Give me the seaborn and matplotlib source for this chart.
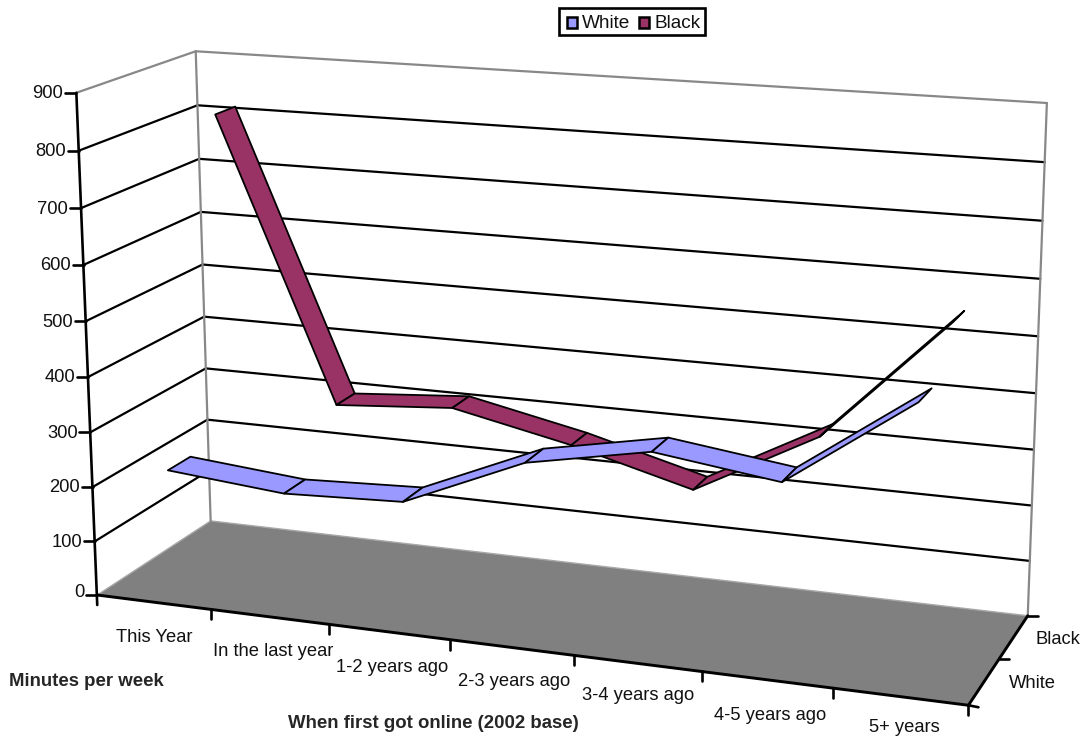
import numpy as np
import matplotlib
matplotlib.use("Agg")
import matplotlib.pyplot as plt
from matplotlib.patches import Rectangle
import seaborn as sns

# Survey values: minutes online per week by when the respondent first got online
categories = ["This Year", "In the last year", "1-2 years ago", "2-3 years ago",
              "3-4 years ago", "4-5 years ago", "5+ years"]
white_minutes = [222, 203, 212, 305, 347, 318, 475]
black_minutes = [817, 302, 318, 272, 214, 332, 552]
value_ticks = [0, 100, 200, 300, 400, 500, 600, 700, 800, 900]
series_names = ["White", "Black"]

WHITE_COLOR = "#9999FF"
BLACK_COLOR = "#993366"
FLOOR_COLOR = "#808080"
BORDER_COLOR = "#888888"
VALUE_MAX = 900.0
LABEL_SIZE = 13.2

sns.set_style("white")
plt.rcParams["font.family"] = ["Liberation Sans", "DejaVu Sans"]

fig = plt.figure(figsize=(10.82, 7.38), dpi=100)
ax = fig.add_axes([0, 0, 1, 1])
ax.set_xlim(0, 1082)
ax.set_ylim(738, 0)
ax.axis("off")

# Camera: a projective map solved from where the box corners land on the canvas.
# Box coordinates are (category fraction, depth fraction, value fraction).
box_corners = np.array([[0, 0, 0], [0, 1, 0], [1, 1, 0], [1, 0, 0],
                        [0, 0, 1], [0, 1, 1], [1, 1, 1]], float)
canvas_corners = np.array([[97, 596], [211, 520], [1028, 616], [968, 705],
                           [77, 92], [195, 52], [1047, 103]], float)
rows = []
for (cx, cd, cv), (u, w) in zip(box_corners, canvas_corners):
    rows.append([cx, cd, cv, 1, 0, 0, 0, 0, -u * cx, -u * cd, -u * cv, -u])
    rows.append([0, 0, 0, 0, cx, cd, cv, 1, -w * cx, -w * cd, -w * cv, -w])
camera = np.linalg.svd(np.array(rows))[2][-1].reshape(3, 4)


def project(x, d, value):
    """Project a category fraction, depth fraction and data value to canvas pixels."""
    h = camera @ np.array([x, d, value / VALUE_MAX, 1.0])
    return h[:2] / h[2]


def segment(p, q, color="black", lw=1.5, z=2):
    sns.lineplot(x=[p[0], q[0]], y=[p[1], q[1]], color=color, linewidth=lw,
                 sort=False, estimator=None, errorbar=None, ax=ax, zorder=z)


# Floor
floor = [project(0, 0, 0), project(0, 1, 0), project(1, 1, 0), project(1, 0, 0)]
ax.fill(*zip(*floor), facecolor=FLOOR_COLOR, edgecolor="#A8A8A8", linewidth=1.0, zorder=1)

# Gridlines across the side wall and back wall
for v in value_ticks[1:-1]:
    segment(project(0, 0, v), project(0, 1, v), lw=1.6)
    segment(project(0, 1, v), project(1, 1, v), lw=1.6)

# Wall borders
top = VALUE_MAX
segment(project(0, 0, top), project(0, 1, top), BORDER_COLOR, 1.6)
segment(project(0, 1, top), project(1, 1, top), BORDER_COLOR, 1.6)
segment(project(0, 1, top), project(0, 1, 0), BORDER_COLOR, 1.6)
segment(project(1, 1, top), project(1, 1, 0), BORDER_COLOR, 1.6)

# Ribbons: Black sits behind White
n = len(categories)
ribbons = [(black_minutes, 0.66, 0.84, BLACK_COLOR), (white_minutes, 0.155, 0.35, WHITE_COLOR)]
z = 3
for values, d_front, d_back, color in ribbons:
    for i in range(n - 1):
        x0, x1 = (i + 0.5) / n, (i + 1.5) / n
        quad = [project(x0, d_front, values[i]), project(x0, d_back, values[i]),
                project(x1, d_back, values[i + 1]), project(x1, d_front, values[i + 1])]
        ax.fill(*zip(*quad), facecolor=color, edgecolor="black", linewidth=1.3,
                joinstyle="round", zorder=z)
    z += 1

# Value axis with ticks
segment(project(0, 0, top), project(0, 0, 0) + np.array([0, 10]), lw=1.9, z=6)
value_label_shift = {0: -4}
for v in value_ticks:
    p = project(0, 0, v)
    segment(p, p + np.array([-11, 0]), lw=1.9, z=6)
    ax.text(p[0] - 13, p[1] + 1 + value_label_shift.get(v, 0), str(v), ha="right",
            va="center", fontsize=LABEL_SIZE, color="#111111")

# Category axis with ticks
segment(project(0, 0, 0), project(1, 0, 0), lw=2.1, z=6)
for i in range(1, n + 1):
    p = project(i / n, 0, 0)
    segment(p, p + np.array([0, 10]), lw=1.9, z=6)
category_label_pos = [(154, 638), (273, 652), (392, 668), (514, 682), (638, 696), (770, 716), (904, 727.5)]
for name, (lx, ly) in zip(categories, category_label_pos):
    ax.text(lx, ly, name, ha="center", va="center", fontsize=LABEL_SIZE, color="#111111")

# Depth axis with ticks and series names
segment(project(1, 0, 0), project(1, 1, 0), lw=2.1, z=6)
for d in (0, 0.5, 1):
    p = project(1, d, 0)
    segment(p, p + np.array([10, 0 if d else 2]), lw=1.9, z=6)
for name, (lx, ly) in zip(series_names, [(1032, 684), (1058, 640)]):
    ax.text(lx, ly, name, ha="center", va="center", fontsize=LABEL_SIZE, color="#111111")

# Axis titles
ax.text(9, 682, "Minutes per week", ha="left", va="center", fontsize=13.4, fontweight="bold")
ax.text(433, 724, "When first got online (2002 base)", ha="center", va="center",
        fontsize=13.4, fontweight="bold")

# Legend box
ax.add_patch(Rectangle((558.5, 7.5), 146.5, 27.5, facecolor="white", edgecolor="black",
                       linewidth=1.9, zorder=7))
for name, color, sx, tx in zip(series_names, [WHITE_COLOR, BLACK_COLOR], [567, 639], [582, 654]):
    ax.add_patch(Rectangle((sx, 17), 10, 10.5, facecolor=color, edgecolor="black",
                           linewidth=1.8, zorder=8))
    ax.text(tx, 23, name, ha="left", va="center", fontsize=13.7, color="#111111", zorder=8)

fig.savefig("out.png", dpi=100, facecolor="white")
